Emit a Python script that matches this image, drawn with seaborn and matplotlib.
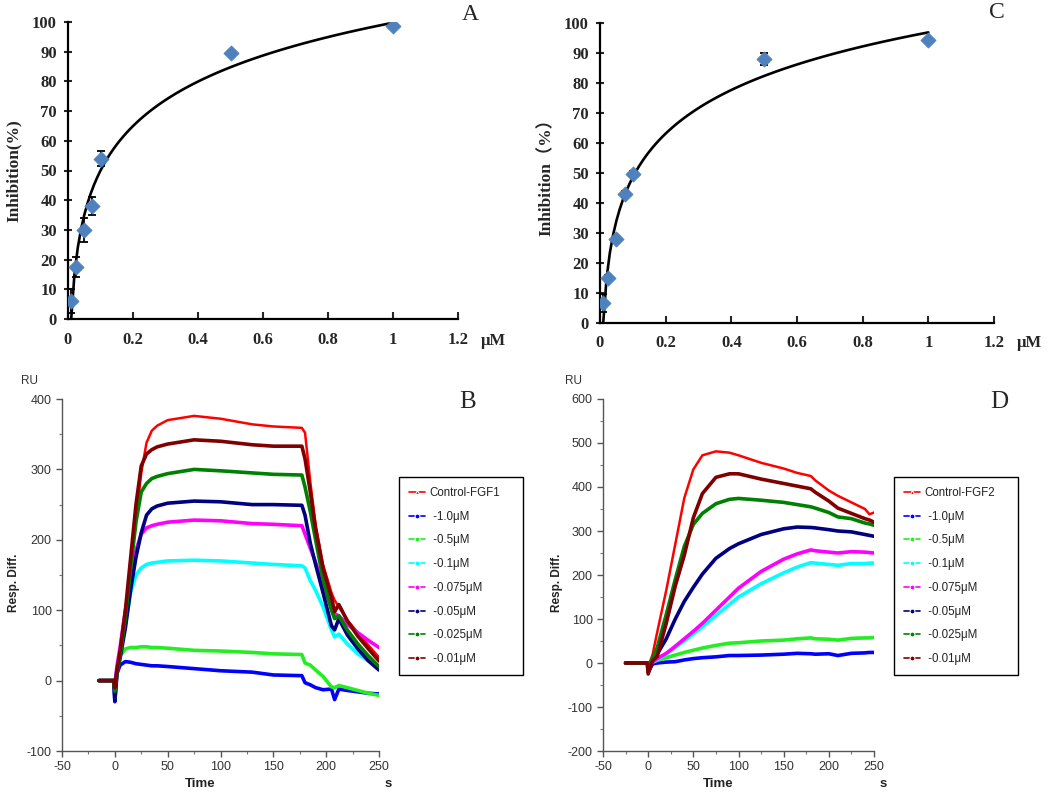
import numpy as np
import pandas as pd
import matplotlib
matplotlib.use("Agg")
import matplotlib.pyplot as plt
from matplotlib.ticker import MultipleLocator
import seaborn as sns

# ---- inhibition data (panels A and C) ----
conc = [0.01, 0.025, 0.05, 0.075, 0.1, 0.5, 1.0]
inhib_fgf1 = [6, 17.5, 30, 38, 54, 89.5, 98.5]
err_fgf1 = [4, 3.5, 4, 3, 2.5, 0.6, 0.6]
inhib_fgf2 = [6.5, 15, 28, 43, 49.5, 88, 94.5]
err_fgf2 = [3, 1, 1, 1, 1, 2, 0.6]

conc_ticks = [0, 0.2, 0.4, 0.6, 0.8, 1.0, 1.2]
conc_ticklabels = ["0", "0.2", "0.4", "0.6", "0.8", "1", "1.2"]

# ---- SPR sensorgrams, panel B (FGF1) ----
spr1_time = [-15, -1, 0, 2, 5, 10, 15, 20, 25, 30, 35, 40, 50, 75, 100, 130, 150, 177,
             180, 185, 190, 197, 205, 208, 212, 220, 230, 240, 250]
spr1_control = [0, 0, -5, 15, 40, 95, 165, 228, 295, 338, 355, 362, 370, 376, 372, 364, 361, 359,
                352, 282, 222, 165, 125, 114, 105, 86, 68, 50, 33]
spr1_1p0 = [0, 0, -30, 10, 22, 27, 26, 24, 23, 22, 21, 21, 20, 17, 14, 12, 8, 7,
            -3, -6, -10, -13, -12, -27, -12, -14, -16, -18, -19]
spr1_0p5 = [0, 0, -10, 10, 35, 45, 47, 47, 48, 48, 47, 47, 46, 43, 42, 40, 38, 37,
            25, 22, 15, 6, -9, -10, -7, -10, -14, -18, -21]
spr1_0p1 = [0, 0, -5, 15, 40, 80, 125, 150, 160, 165, 167, 168, 170, 171, 170, 167, 165, 163,
            160, 142, 128, 105, 72, 62, 66, 52, 38, 28, 20]
spr1_0p075 = [0, 0, -5, 20, 48, 100, 145, 185, 208, 217, 220, 222, 225, 228, 227, 223, 222, 220,
              208, 188, 168, 135, 103, 95, 92, 80, 68, 57, 47]
spr1_0p05 = [0, 0, -28, 10, 32, 75, 130, 175, 210, 235, 244, 248, 252, 255, 254, 250, 250, 249,
             235, 195, 165, 125, 78, 72, 88, 65, 45, 28, 15]
spr1_0p025 = [0, 0, -15, 12, 35, 90, 160, 225, 268, 280, 287, 290, 294, 300, 298, 295, 293, 292,
              275, 240, 200, 145, 100, 88, 92, 72, 52, 35, 20]
spr1_0p01 = [0, 0, -10, 15, 42, 100, 175, 250, 305, 322, 328, 332, 336, 342, 340, 335, 333, 333,
             315, 268, 215, 160, 118, 98, 108, 85, 63, 45, 28]

# ---- SPR sensorgrams, panel D (FGF2) ----
spr2_time = [-25, -1, 0, 5, 10, 20, 30, 40, 50, 60, 75, 90, 100, 125, 150, 165, 180, 185,
             200, 210, 225, 240, 245, 250]
spr2_control = [0, 0, -10, 20, 70, 165, 270, 375, 440, 472, 481, 478, 472, 455, 442, 432, 425, 415,
                392, 380, 365, 350, 338, 342]
spr2_1p0 = [0, 0, -20, -2, 0, 2, 3, 7, 10, 12, 14, 17, 17, 18, 20, 22, 21, 20,
            21, 17, 22, 23, 24, 24]
spr2_0p5 = [0, 0, 0, 2, 6, 12, 18, 24, 29, 34, 40, 45, 46, 50, 52, 55, 57, 55,
            54, 52, 56, 57, 57, 58]
spr2_0p1 = [0, 0, -3, 2, 8, 20, 35, 50, 66, 82, 108, 133, 150, 180, 205, 218, 228, 227,
            224, 222, 226, 226, 227, 227]
spr2_0p075 = [0, 0, -5, 3, 10, 22, 38, 55, 72, 90, 120, 150, 170, 208, 236, 248, 257, 255,
              252, 250, 253, 252, 251, 250]
spr2_0p05 = [0, 0, -5, 8, 20, 55, 100, 140, 172, 202, 238, 260, 271, 292, 305, 309, 308, 307,
             303, 300, 298, 292, 290, 288]
spr2_0p025 = [0, 0, -5, 10, 35, 110, 190, 265, 315, 340, 362, 372, 374, 370, 365, 360, 355, 352,
              342, 332, 328, 318, 316, 313]
spr2_0p01 = [0, 0, -25, 5, 15, 90, 175, 245, 330, 385, 422, 430, 430, 418, 408, 402, 396, 388,
             368, 352, 340, 328, 325, 320]

dose_labels = [" -1.0μM", " -0.5μM", " -0.1μM", " -0.075μM", " -0.05μM", " -0.025μM", " -0.01μM"]
series_colors = ["#ff0000", "#0000ff", "#22ee22", "#00ffff", "#ff00ff", "#000080", "#008000", "#800000"]

SERIF = "Liberation Serif"
SANS = "Liberation Sans"

sns.set_style("ticks")
plt.rcParams["font.family"] = [SANS, "DejaVu Sans"]
plt.rcParams["axes.unicode_minus"] = False

fig = plt.figure(figsize=(10.5, 7.93), dpi=100)
W, H = 1050, 793


def axes_px(x0, x1, y0, y1):
    # y0 = top pixel, y1 = bottom pixel
    return fig.add_axes([x0 / W, 1 - y1 / H, (x1 - x0) / W, (y1 - y0) / H])


def inhibition_panel(ax, values, errors, ylabel, ylabel_family):
    df = pd.DataFrame({"conc": conc, "inhib": values})
    sns.regplot(data=df, x="conc", y="inhib", logx=True, scatter=False, ci=None,
                color="black", line_kws={"lw": 1.9}, ax=ax)
    ax.errorbar(conc, values, yerr=errors, fmt="none", ecolor="black",
                elinewidth=1.3, capsize=3, capthick=1.3, zorder=3)
    sns.scatterplot(data=df, x="conc", y="inhib", marker="D", s=60, color="#4f81bd",
                    edgecolor="#4f81bd", linewidth=0.5, ax=ax, zorder=4)
    ax.set_xlim(0, 1.2)
    ax.set_ylim(0, 100)
    ax.set_xticks(conc_ticks, conc_ticklabels, fontfamily=SERIF, fontweight="bold", fontsize=12)
    yt = list(range(0, 101, 10))
    ax.set_yticks(yt, [str(v) for v in yt], fontfamily=SERIF, fontweight="bold", fontsize=12)
    ax.tick_params(axis="x", direction="in", length=5, width=1.5, pad=9)
    ax.tick_params(axis="y", direction="inout", length=6, width=1.5, pad=5)
    ax.set_xlabel("")
    ax.set_ylabel(ylabel, fontfamily=ylabel_family, fontweight="bold", fontsize=12.5, labelpad=7)
    for s in ["top", "right"]:
        ax.spines[s].set_visible(False)
    for s in ["left", "bottom"]:
        ax.spines[s].set_linewidth(1.6)
        ax.spines[s].set_color("black")


def spr_panel(ax, time, curves, labels, ylim, legend_box):
    frames = []
    for lab, vals in zip(labels, curves):
        frames.append(pd.DataFrame({"time": time, "resp": vals, "sample": lab}))
    df = pd.concat(frames, ignore_index=True)
    pal = dict(zip(labels, series_colors))
    sns.lineplot(data=df, x="time", y="resp", hue="sample", hue_order=labels, palette=pal,
                 estimator=None, sort=False, lw=2.6, ax=ax)
    for ln in ax.lines:
        if matplotlib.colors.to_hex(ln.get_color()) == "#ff0000":
            ln.set_linewidth(1.8)
            ln.set_zorder(1.5)
    handles, labs = ax.get_legend_handles_labels()
    ax.get_legend().remove()
    for h in handles:
        h.set_linewidth(1.2)
        h.set_marker("o")
        h.set_markersize(3.5)
    handles[0].set_marker("^")
    handles[0].set_markersize(3)
    x0, y0, x1, y1 = legend_box
    leg = ax.legend(handles, labs, loc="upper left",
                    bbox_to_anchor=(x0 / W, 1 - y1 / H, (x1 - x0) / W, (y1 - y0) / H),
                    bbox_transform=fig.transFigure, mode="expand", borderaxespad=0,
                    frameon=True, fancybox=False, framealpha=1, edgecolor="black",
                    labelspacing=1.02, handlelength=1.4, handletextpad=0.4,
                    borderpad=0.85, prop={"family": SANS, "size": 8.3})
    leg.get_frame().set_linewidth(1.0)
    for t in leg.get_texts():
        t.set_color("#222222")

    ax.set_xlim(-50, 250)
    ax.set_ylim(*ylim)
    ax.xaxis.set_major_locator(MultipleLocator(50))
    ax.xaxis.set_minor_locator(MultipleLocator(25))
    ax.yaxis.set_major_locator(MultipleLocator(100))
    ax.yaxis.set_minor_locator(MultipleLocator(50))
    ax.tick_params(which="major", direction="out", length=4, width=1, colors="#555555",
                   labelcolor="#333333", labelsize=9)
    ax.tick_params(which="minor", direction="out", length=2, width=0.8, colors="#777777")
    for lab in ax.get_xticklabels() + ax.get_yticklabels():
        lab.set_fontfamily(SANS)
    ax.set_xlabel("")
    ax.set_ylabel("")
    for s in ["top", "right"]:
        ax.spines[s].set_visible(False)
    for s in ["left", "bottom"]:
        ax.spines[s].set_linewidth(1.0)
        ax.spines[s].set_color("#555555")


# ---------- panel A ----------
axA = axes_px(68, 458, 22, 319)
inhibition_panel(axA, inhib_fgf1, err_fgf1, "Inhibition(%)", [SERIF])
fig.text(493 / W, 1 - 341 / H, "μM", fontfamily=SERIF, fontweight="bold", fontsize=12,
         ha="center", va="center")
fig.text(470 / W, 1 - 14 / H, "A", fontfamily=SERIF, fontsize=17, ha="center", va="center")

# ---------- panel C ----------
axC = axes_px(600, 994, 23, 323)
inhibition_panel(axC, inhib_fgf2, err_fgf2, "Inhibition（%）", [SERIF, "Noto Sans CJK SC"])
fig.text(1029 / W, 1 - 343 / H, "μM", fontfamily=SERIF, fontweight="bold", fontsize=12,
         ha="center", va="center")
fig.text(997 / W, 1 - 12 / H, "C", fontfamily=SERIF, fontsize=17, ha="center", va="center")

# ---------- panel B ----------
axB = axes_px(62, 379, 399, 751)
spr_panel(axB, spr1_time,
          [spr1_control, spr1_1p0, spr1_0p5, spr1_0p1, spr1_0p075, spr1_0p05, spr1_0p025, spr1_0p01],
          ["Control-FGF1"] + dose_labels, (-100, 400), (399, 477, 523, 687))
fig.text(30 / W, 1 - 381 / H, "RU", fontsize=8.5, color="#333333", ha="center", va="center")
fig.text(14 / W, 1 - 583 / H, "Resp. Diff.", fontsize=8.5, fontweight="bold", color="#222222",
         rotation=90, ha="center", va="center")
fig.text(200 / W, 1 - 784 / H, "Time", fontsize=9.5, fontweight="bold", color="#222222",
         ha="center", va="center")
fig.text(388 / W, 1 - 784 / H, "s", fontsize=9.5, fontweight="bold", color="#222222",
         ha="center", va="center")
fig.text(468 / W, 1 - 402 / H, "B", fontfamily=SERIF, fontsize=18, ha="center", va="center")

# ---------- panel D ----------
axD = axes_px(603, 874, 399, 751)
spr_panel(axD, spr2_time,
          [spr2_control, spr2_1p0, spr2_0p5, spr2_0p1, spr2_0p075, spr2_0p05, spr2_0p025, spr2_0p01],
          ["Control-FGF2"] + dose_labels, (-200, 600), (894, 477, 1018, 687))
fig.text(573 / W, 1 - 381 / H, "RU", fontsize=8.5, color="#333333", ha="center", va="center")
fig.text(557 / W, 1 - 583 / H, "Resp. Diff.", fontsize=8.5, fontweight="bold", color="#222222",
         rotation=90, ha="center", va="center")
fig.text(718 / W, 1 - 784 / H, "Time", fontsize=9.5, fontweight="bold", color="#222222",
         ha="center", va="center")
fig.text(883 / W, 1 - 784 / H, "s", fontsize=9.5, fontweight="bold", color="#222222",
         ha="center", va="center")
fig.text(999 / W, 1 - 402 / H, "D", fontfamily=SERIF, fontsize=18, ha="center", va="center")

fig.savefig("out.png", dpi=100)
